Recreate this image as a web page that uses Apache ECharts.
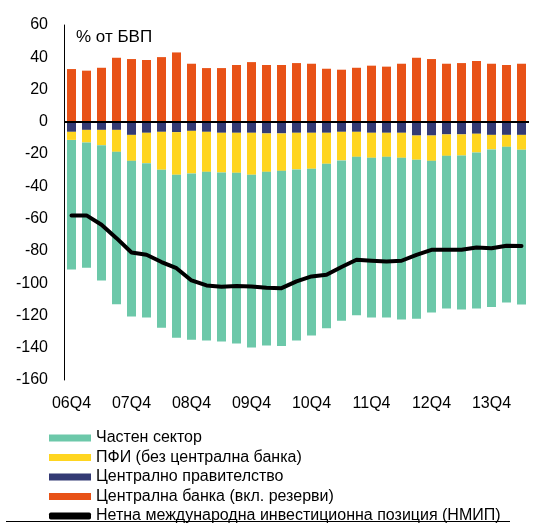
<!DOCTYPE html>
<html lang="bg">
<head>
    <meta charset="UTF-8">
    <title>НМИП</title>
    <script src="https://cdn.jsdelivr.net/npm/echarts@6/dist/echarts.min.js"></script>
    <style type="text/css">
    html, body { margin: 0; padding: 0; background: #fff; }
    #main { width: 543px; height: 523px; }
    </style>
</head>
<body>
    <div id="main"></div>
    <script type="text/javascript">
        // тримесечия 06Q4 - 14Q2
        var quarters = ['06Q4',
            '07Q1', '07Q2', '07Q3', '07Q4',
            '08Q1', '08Q2', '08Q3', '08Q4',
            '09Q1', '09Q2', '09Q3', '09Q4',
            '10Q1', '10Q2', '10Q3', '10Q4',
            '11Q1', '11Q2', '11Q3', '11Q4',
            '12Q1', '12Q2', '12Q3', '12Q4',
            '13Q1', '13Q2', '13Q3', '13Q4',
            '14Q1', '14Q2'];

        var privateSector = [-80.3, -77.7, -83.8, -94.4, -96.4, -95.6, -97.9, -101.0, -103.1, -104.5, -104.7, -105.8, -107.0, -107.6, -108.6, -106.0,
            -103.3, -102.0, -99.4, -98.1, -98.9, -99.5, -100.2, -98.6, -94.0, -94.6, -95.4, -96.7, -97.7, -96.5, -95.9];
        var mfi = [-5.0, -7.8, -9.5, -13.6, -16.1, -18.8, -23.5, -26.4, -26.4, -24.8, -24.6, -24.8, -26.0, -23.8, -23.2, -22.7,
            -22.3, -19.2, -17.7, -15.5, -15.5, -14.9, -15.5, -15.0, -15.7, -13.3, -13.1, -11.6, -9.0, -7.4, -9.2];
        var government = [-6.2, -5.0, -5.0, -5.0, -8.1, -6.8, -6.2, -6.4, -5.6, -6.2, -6.8, -6.8, -6.8, -7.2, -7.2, -6.8,
            -6.8, -6.8, -6.2, -6.2, -6.8, -6.8, -6.8, -8.5, -8.5, -7.8, -7.8, -7.4, -8.1, -8.1, -8.1];
        var centralBank = [32.7, 31.7, 33.5, 39.7, 38.9, 38.3, 40.1, 43.0, 36.0, 33.3, 33.3, 35.2, 37.0, 35.2, 35.2, 36.4,
            36.0, 32.9, 32.3, 33.5, 34.8, 34.2, 36.0, 39.7, 38.9, 36.0, 36.4, 37.7, 36.0, 35.2, 36.0];
        var niip = [-58.0, -58.0, -63.8, -72.1, -81.0, -82.4, -86.9, -90.7, -98.3, -101.4, -102.2, -101.8, -102.0, -102.9, -103.1, -98.9,
            -95.8, -94.8, -90.0, -85.5, -86.1, -86.5, -86.1, -82.4, -79.3, -79.3, -79.3, -77.9, -78.3, -76.8, -77.0];

        var yTicks = { min: -160, max: 60, step: 20 };

        var names = ['Частен сектор', 'ПФИ (без централна банка)', 'Централно правителство',
            'Централна банка (вкл. резерви)', 'Нетна международна инвестиционна позиция (НМИП)'];

        var font = 'Liberation Sans, Arial, sans-serif';
        var myChart = echarts.init(document.getElementById('main'));

        var option = {
            animation: false,
            textStyle: { fontFamily: font },
            grid: { left: 64, top: 25, width: 465, height: 355 },
            title: {
                text: '% от БВП',
                left: 71, top: 24,
                textStyle: { fontFamily: font, fontSize: 17, fontWeight: 'normal', color: '#000' }
            },
            legend: {
                orient: 'vertical',
                left: 49, top: 430,
                width: 490, height: 100,
                padding: 0,
                itemWidth: 42, itemHeight: 7,
                itemGap: 3.5,
                textStyle: { fontFamily: font, fontSize: 16, lineHeight: 16, color: '#000' },
                data: [
                    { name: names[0], icon: 'rect' },
                    { name: names[1], icon: 'rect' },
                    { name: names[2], icon: 'rect' },
                    { name: names[3], icon: 'rect' },
                    { name: names[4], icon: 'roundRect' }
                ]
            },
            xAxis: {
                type: 'category',
                data: quarters,
                axisLine: { show: false },
                axisTick: { show: false },
                axisLabel: { interval: 3, margin: 16, fontSize: 16, color: '#000', fontFamily: font }
            },
            yAxis: {
                type: 'value',
                min: yTicks.min, max: yTicks.max, interval: yTicks.step,
                splitLine: { show: false },
                axisTick: { show: false },
                axisLine: { show: true, lineStyle: { color: '#000', width: 1 } },
                axisLabel: { fontSize: 16, color: '#000', margin: 16, fontFamily: font }
            },
            graphic: [{
                type: 'line',
                shape: { x1: 6, y1: 521.5, x2: 510, y2: 521.5 },
                style: { stroke: '#000', lineWidth: 1 }
            }],
            series: [{
                name: names[2], type: 'bar', stack: 'total', barWidth: 9,
                itemStyle: { color: '#333a74' }, data: government,
                markLine: {
                    silent: true, symbol: 'none', label: { show: false },
                    lineStyle: { color: '#000', width: 2, type: 'solid' },
                    data: [{ yAxis: 0 }]
                }
            }, {
                name: names[1], type: 'bar', stack: 'total', barWidth: 9,
                itemStyle: { color: '#ffd520' }, data: mfi
            }, {
                name: names[0], type: 'bar', stack: 'total', barWidth: 9,
                itemStyle: { color: '#6cc8a9' }, data: privateSector
            }, {
                name: names[3], type: 'bar', stack: 'total', barWidth: 9,
                itemStyle: { color: '#e85217' }, data: centralBank
            }, {
                name: names[4], type: 'line', symbol: 'none', z: 5,
                lineStyle: { color: '#000', width: 4, cap: 'round', join: 'round' },
                itemStyle: { color: '#000' },
                data: niip
            }]
        };

        myChart.setOption(option);
    </script>
</body>
</html>
